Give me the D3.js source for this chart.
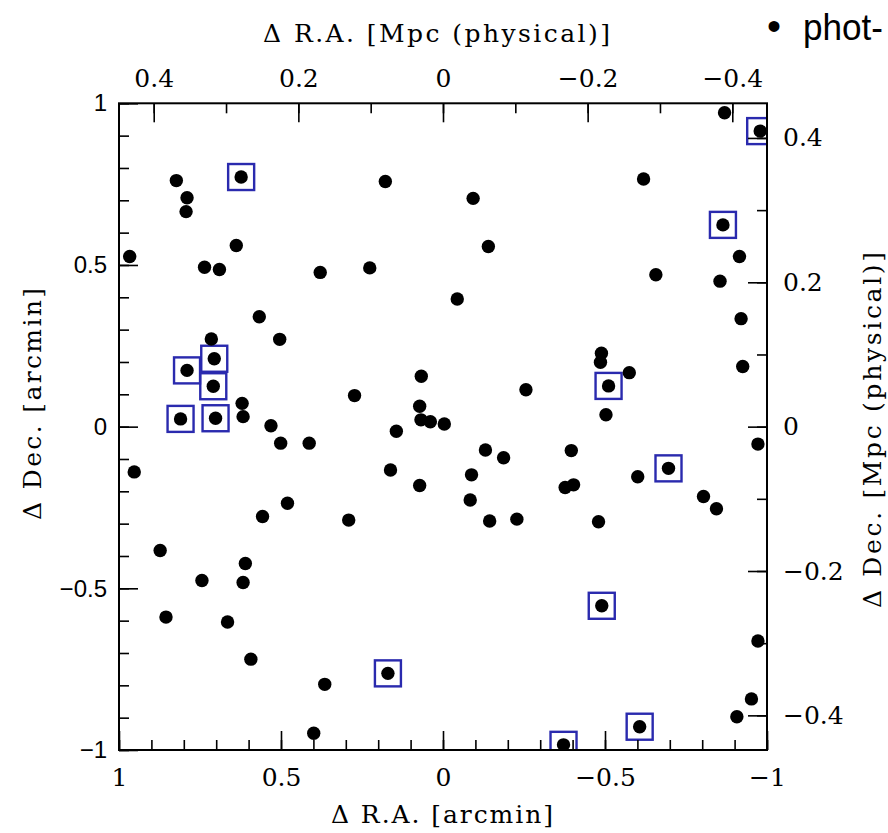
<!DOCTYPE html>
<html>
<head>
<meta charset="utf-8">
<script src="https://cdn.jsdelivr.net/npm/d3@7"></script>
<style>
  html, body { margin: 0; padding: 0; background: #fff; overflow: hidden; }
  svg { display: block; }
</style>
</head>
<body>
<script>
// ---- data (arcmin offsets) ----
const dotRA  = [0.823,0.790,0.793,0.623,0.178,0.967,0.638,0.736,0.690,0.379,0.226,0.567,0.504,0.715,0.706,0.790,0.709,0.620,0.617,0.810,0.702,0.067,0.273,0.072,0.068,0.039,-0.004,0.531,0.501,0.413,0.144,0.953,0.162,0.072,0.480,0.557,0.291,0.873,0.610,0.744,0.617,0.855,0.665,0.593,0.365,0.170,0.399,-0.869,-0.979,-0.619,-0.093,-0.864,-0.140,-0.915,-0.657,-0.855,-0.044,-0.920,-0.489,-0.486,-0.575,-0.925,-0.511,-0.256,-0.503,-0.972,-0.131,-0.187,-0.396,-0.696,-0.088,-0.601,-0.377,-0.403,-0.084,-0.804,-0.844,-0.144,-0.228,-0.480,-0.490,-0.972,-0.952,-0.907,-0.607,-0.372];
const dotDec = [0.761,0.708,0.665,0.772,0.758,0.526,0.560,0.493,0.486,0.477,0.491,0.340,0.270,0.271,0.210,0.174,0.125,0.072,0.031,0.024,0.026,0.156,0.096,0.063,0.021,0.015,0.008,0.003,-0.051,-0.051,-0.014,-0.140,-0.134,-0.182,-0.237,-0.278,-0.289,-0.383,-0.423,-0.476,-0.482,-0.589,-0.604,-0.719,-0.797,-0.763,-0.948,0.971,0.914,0.766,0.706,0.624,0.557,0.526,0.470,0.450,0.395,0.334,0.227,0.199,0.167,0.186,0.126,0.114,0.037,-0.054,-0.072,-0.096,-0.074,-0.129,-0.149,-0.155,-0.188,-0.180,-0.227,-0.216,-0.254,-0.292,-0.286,-0.294,-0.554,-0.663,-0.842,-0.897,-0.928,-0.984];
// boxed (spectroscopic) members
const boxRA  = [0.623,0.706,0.790,0.709,0.810,0.702,0.170,-0.979,-0.864,-0.511,-0.696,-0.490,-0.607,-0.372];
const boxDec = [0.772,0.210,0.174,0.125,0.024,0.026,-0.763,0.914,0.624,0.126,-0.129,-0.554,-0.928,-0.984];

// tick values
const arcMajor = [1, 0.5, 0, -0.5, -1];
const arcMinor = d3.range(-10, 11).map(i => i / 10);
const mpcMajor = [0.4, 0.2, 0, -0.2, -0.4];
const mpcMinor = d3.range(-4, 5).map(i => i / 10);
const mpcPerArcmin = 0.448;

// ---- layout ----
const W = 888, H = 833;
const L = 119, R = 767, T = 103.3, B = 750;

const svg = d3.select("body").append("svg").attr("width", W).attr("height", H);

const x = d3.scaleLinear().domain([1, -1]).range([L, R]);
const y = d3.scaleLinear().domain([1, -1]).range([T, B]);
const xm = d3.scaleLinear().domain([mpcPerArcmin, -mpcPerArcmin]).range([L, R]);
const ym = d3.scaleLinear().domain([mpcPerArcmin, -mpcPerArcmin]).range([T, B]);

const fmt = d => d === 0 ? "0" : (Number.isInteger(d) ? d3.format("d")(d) : d3.format(".1f")(d));
const serif = "'DejaVu Serif', serif";
const sans = "'Liberation Sans', Arial, sans-serif";

// clip
svg.append("clipPath").attr("id", "plotclip")
  .append("rect").attr("x", L).attr("y", T).attr("width", R - L).attr("height", B - T);

const plot = svg.append("g").attr("clip-path", "url(#plotclip)");

// boxes
const bs = 26;
plot.selectAll("rect.box").data(boxRA.map((a, i) => [a, boxDec[i]])).join("rect")
  .attr("class", "box")
  .attr("x", d => x(d[0]) - bs / 2).attr("y", d => y(d[1]) - bs / 2)
  .attr("width", bs).attr("height", bs)
  .attr("fill", "none").attr("stroke", "#2a2aae").attr("stroke-width", 2.4);

// dots
plot.selectAll("circle").data(dotRA.map((a, i) => [a, dotDec[i]])).join("circle")
  .attr("cx", d => x(d[0])).attr("cy", d => y(d[1])).attr("r", 6.7)
  .attr("fill", "#000");

// ---- axes ----
function styleAxis(g, font, size) {
  g.select(".domain").remove();
  g.selectAll(".tick line").attr("stroke", "#000").attr("stroke-width", 1.6);
  g.selectAll(".tick text").attr("fill", "#000").style("font-family", font).style("font-size", size + "px");
}
const minorLen = 10, majorLen = 19;

// bottom
svg.append("g").attr("transform", `translate(0,${B})`)
  .call(d3.axisBottom(x).tickValues(arcMinor).tickSize(-minorLen).tickFormat(""))
  .call(g => styleAxis(g, serif, 25));
svg.append("g").attr("transform", `translate(0,${B})`)
  .call(d3.axisBottom(x).tickValues(arcMajor).tickSize(-majorLen).tickPadding(18).tickFormat(fmt))
  .call(g => styleAxis(g, serif, 25))
  .call(g => g.selectAll(".tick text").attr("dy", "0.71em"));

// left
svg.append("g").attr("transform", `translate(${L},0)`)
  .call(d3.axisLeft(y).tickValues(arcMinor).tickSize(-minorLen).tickFormat(""))
  .call(g => styleAxis(g, sans, 24));
svg.append("g").attr("transform", `translate(${L},0)`)
  .call(d3.axisLeft(y).tickValues(arcMajor).tickSize(-majorLen).tickPadding(12).tickFormat(fmt))
  .call(g => styleAxis(g, sans, 24));

// top (Mpc)
svg.append("g").attr("transform", `translate(0,${T})`)
  .call(d3.axisTop(xm).tickValues(mpcMinor).tickSize(-minorLen).tickFormat(""))
  .call(g => styleAxis(g, serif, 25));
svg.append("g").attr("transform", `translate(0,${T})`)
  .call(d3.axisTop(xm).tickValues(mpcMajor).tickSize(-majorLen).tickPadding(16).tickFormat(fmt))
  .call(g => styleAxis(g, serif, 25));

// right (Mpc)
svg.append("g").attr("transform", `translate(${R},0)`)
  .call(d3.axisRight(ym).tickValues(mpcMinor).tickSize(-minorLen).tickFormat(""))
  .call(g => styleAxis(g, serif, 25));
svg.append("g").attr("transform", `translate(${R},0)`)
  .call(d3.axisRight(ym).tickValues(mpcMajor).tickSize(-majorLen).tickPadding(16).tickFormat(fmt))
  .call(g => styleAxis(g, serif, 25));

// frame
svg.append("rect").attr("x", L).attr("y", T).attr("width", R - L).attr("height", B - T)
  .attr("fill", "none").attr("stroke", "#000").attr("stroke-width", 2);

// ---- titles ----
svg.append("text").attr("x", (263 + 610) / 2).attr("y", 42)
  .attr("text-anchor", "middle").attr("textLength", 347)
  .style("font-family", serif).style("font-size", "25px")
  .text("Δ R.A. [Mpc (physical)]");

svg.append("text").attr("x", 442).attr("y", 823)
  .attr("text-anchor", "middle").attr("textLength", 222)
  .style("font-family", serif).style("font-size", "25px")
  .text("Δ R.A. [arcmin]");

svg.append("text").attr("transform", "translate(41,404) rotate(-90)")
  .attr("text-anchor", "middle").attr("textLength", 232)
  .style("font-family", serif).style("font-size", "25px")
  .text("Δ Dec. [arcmin]");

svg.append("text").attr("transform", "translate(881,430) rotate(-90)")
  .attr("text-anchor", "middle").attr("textLength", 356)
  .style("font-family", serif).style("font-size", "25px")
  .text("Δ Dec. [Mpc (physical)]");

// legend fragment (top right)
svg.append("text").attr("x", 774).attr("y", 40)
  .attr("text-anchor", "middle")
  .style("font-family", sans).style("font-size", "40px").attr("fill", "#000")
  .text("•");
svg.append("text").attr("x", 803).attr("y", 40)
  .attr("textLength", 80).attr("lengthAdjust", "spacingAndGlyphs")
  .style("font-family", sans).style("font-size", "36px").attr("fill", "#000")
  .text("phot-");
</script>
</body>
</html>
